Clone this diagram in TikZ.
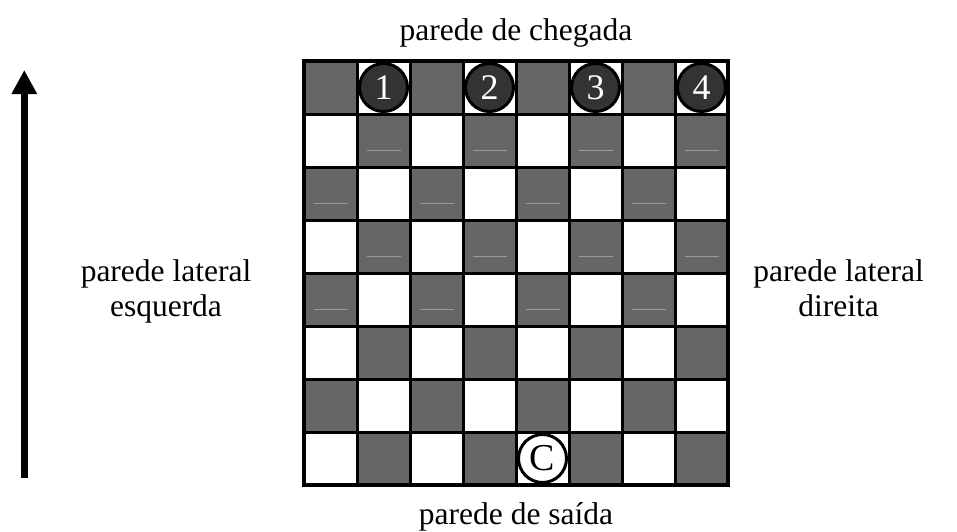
\documentclass[tikz,border=0pt]{standalone}
\usepackage{fontspec}
\setmainfont{Liberation Serif}
\usetikzlibrary{arrows.meta}
\definecolor{darkcell}{HTML}{666666}
\definecolor{piecefill}{HTML}{333333}
\definecolor{cellmark}{HTML}{9A9A9A}
\begin{document}
\begin{tikzpicture}[x=1pt,y=-1pt,
  walltext/.style={font=\fontsize{31.5}{36}\selectfont, anchor=base, inner sep=0pt},
  piecenode/.style={circle, draw=black, line width=3pt, fill=piecefill, text=white,
    minimum size=48pt, inner sep=0pt, font=\fontsize{36}{36}\selectfont},
  startnode/.style={circle, draw=black, line width=3pt, fill=white, text=black,
    minimum size=48pt, inner sep=0pt, font=\fontsize{38}{38}\selectfont},
  gridline/.style={line width=3pt, black},
  markline/.style={cellmark, line width=1pt}
  ]
\useasboundingbox (0,0) rectangle (957,531);
% dark cells
\foreach \i in {0,...,7} {
  \foreach \j in {0,...,7} {
    \pgfmathtruncatemacro\s{mod(\i+\j,2)}
    \ifnum\s=0
      \fill[darkcell] (304+53*\i,61+53*\j) rectangle ++(53,53);
    \fi
  }
}
% light marks in rows 2-5
\foreach \j in {1,...,4} {
  \foreach \i in {0,...,7} {
    \pgfmathtruncatemacro\s{mod(\i+\j,2)}
    \ifnum\s=0
      \draw[markline] (304+53*\i+9.5,61+53*\j+36.5) -- ++(34,0);
    \fi
  }
}
% grid
\foreach \k in {1,...,7} {
  \draw[gridline] (304+53*\k,61) -- (304+53*\k,485);
  \draw[gridline] (304,61+53*\k) -- (728,61+53*\k);
}
\draw[line width=4pt] (304,61) rectangle (728,485);
% pieces
\node[piecenode] (p1) at (383.5,87.5) {1};
\node[piecenode] (p2) at (489.5,87.5) {2};
\node[piecenode] (p3) at (595.5,87.5) {3};
\node[piecenode] (p4) at (701.5,87.5) {4};
\node[startnode] (c) at (542.5,458.5) {C};
% arrow
\coordinate (atail) at (24.3,478);
\coordinate (ahead) at (24.3,70);
\draw[line width=7pt, -{Triangle[length=24pt,width=24pt]}] (atail) -- (ahead);
% labels
\node[walltext] (top) at (516,40) {parede de chegada};
\node[walltext] (bottom) at (516,524) {parede de saída};
\node[walltext] (left1) at (166,281) {parede lateral};
\node[walltext] (left2) at (166,316.5) {esquerda};
\node[walltext] (right1) at (838.5,281) {parede lateral};
\node[walltext] (right2) at (838.5,316.5) {direita};
\end{tikzpicture}
\end{document}
